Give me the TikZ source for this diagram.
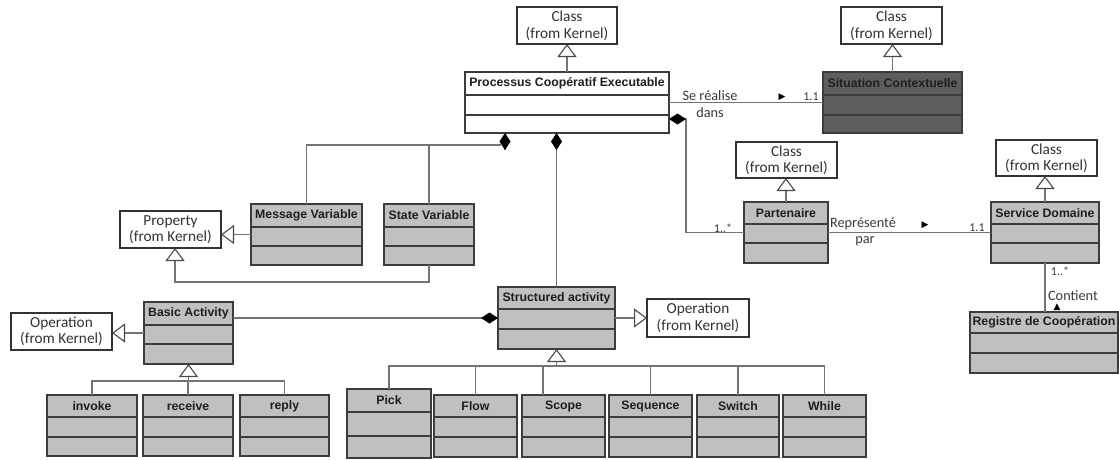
\documentclass[tikz,border=0pt]{standalone}
\usepackage{fontspec}
\setmainfont{Carlito}
\newfontfamily\umlhfam{Liberation Sans}
\newfontfamily\umlsym{DejaVu Sans}
\usetikzlibrary{arrows.meta,calc}
\definecolor{umlgray}{HTML}{C0C0C0}
\definecolor{umldk}{HTML}{5E5E5E}
\definecolor{boxc}{HTML}{3C3C3C}
\definecolor{kc}{HTML}{333333}
\definecolor{connc}{HTML}{747474}
\definecolor{htext}{HTML}{1E1E1E}
\definecolor{ktext}{HTML}{333333}
\definecolor{ltext}{HTML}{3A3A3A}
\definecolor{tipc}{HTML}{4A4A4A}
\newcommand{\umlhfont}{\umlhfam\bfseries\fontsize{12.3}{14}\selectfont}
\newcommand{\umlkfont}{\fontsize{15.3}{16.5}\selectfont}
\newcommand{\umllfont}{\fontsize{14.3}{16}\selectfont}
\newcommand{\umlmfont}{\fontsize{12}{13}\selectfont}
\tikzset{
  uml/.style={draw=boxc, line width=1.2pt, fill=umlgray, inner sep=0pt, outer sep=0pt},
  umldark/.style={uml, fill=umldk},
  kbox/.style={draw=kc, line width=1.1pt, fill=white, inner sep=0pt, outer sep=0pt, align=center, font=\umlkfont, text=ktext},
  rowline/.style={draw=boxc, line width=1.2pt},
  hdr/.style={font=\umlhfont, text=htext, inner sep=0pt},
  conn/.style={draw=connc, line width=1.2pt},
  gen/.style={conn, -{Triangle[open, length=13pt, width=19pt, line width=1.1pt, color=tipc]}},
  comp/.style={conn, {Diamond[length=17pt, width=11pt, color=black]}-},
  lbl/.style={font=\umllfont, text=ltext, inner sep=0pt},
  mult/.style={font=\umlmfont, text=ltext, inner sep=0pt},
  sym/.style={font=\umlsym\fontsize{9}{10}\selectfont, text=black, inner sep=0pt},
}
% name, style, x1, y1, x2, y2, header bottom, row line, title
\newcommand{\umlclass}[9]{%
  \pgfmathsetmacro\umlcx{(#3+#5)/2}%
  \pgfmathsetmacro\umlcy{(#4+#6)/2}%
  \pgfmathsetmacro\umlw{#5-#3}%
  \pgfmathsetmacro\umlh{#6-#4}%
  \pgfmathsetmacro\umlhy{(#4+#7)/2}%
  \node[#2, minimum width=\umlw pt, minimum height=\umlh pt] (#1) at (\umlcx,\umlcy) {};
  \draw[rowline] (#3,#7) -- (#5,#7) (#3,#8) -- (#5,#8);
  \node[hdr] (#1-t) at (\umlcx,\umlhy) {#9};
}
\begin{document}
\begin{tikzpicture}[x=1pt, y=-1pt]
\useasboundingbox[fill=white] (0,0) rectangle (1119,459);

% kernel classes
\node[kbox, minimum width=100pt, minimum height=37pt] (k1) at (567,25.5) {Class\\(from Kernel)};
\node[kbox, minimum width=101pt, minimum height=37pt] (k2) at (891.5,25.5) {Class\\(from Kernel)};
\node[kbox, minimum width=101pt, minimum height=36pt] (k3) at (786.5,160) {Class\\(from Kernel)};
\node[kbox, minimum width=101pt, minimum height=36pt] (k4) at (1046.5,158) {Class\\(from Kernel)};
\node[kbox, minimum width=101pt, minimum height=37pt] (prop) at (170.5,229.5) {Property\\(from Kernel)};
\node[kbox, minimum width=101pt, minimum height=37pt] (opL) at (61.5,331.5) {Operation\\(from Kernel)};
\node[kbox, minimum width=102pt, minimum height=38pt] (opR) at (698,318) {Operation\\(from Kernel)};

% uml classes
\umlclass{pce}{uml, fill=white}{465}{72}{669}{133}{95}{115}{Processus Coopératif Executable}
\umlclass{sit}{umldark}{823}{72}{962}{133}{95}{115}{Situation Contextuelle}
\umlclass{part}{uml}{744}{202}{828}{263}{224}{243}{Partenaire}
\umlclass{sd}{uml}{991}{202}{1099}{263}{224}{243}{Service Domaine}
\umlclass{reg}{uml}{970}{312}{1118}{373}{333}{353}{Registre de Coopération}
\umlclass{mv}{uml}{251}{204}{362}{265}{227}{246}{Message Variable}
\umlclass{sv}{uml}{384}{204}{474}{265}{227}{246}{State Variable}
\umlclass{ba}{uml}{144}{302}{233}{364}{325}{344}{Basic Activity}
\umlclass{sa}{uml}{498}{287}{615}{349}{309}{329}{Structured activity}
\umlclass{inv}{uml}{47}{395}{137}{456}{417}{437}{invoke}
\umlclass{rec}{uml}{143}{395}{233}{456}{417}{437}{receive}
\umlclass{rep}{uml}{240}{395}{329}{456}{417}{437}{reply}
\umlclass{pick}{uml}{347}{389}{431}{458}{412}{436}{Pick}
\umlclass{flow}{uml}{434}{395}{517}{457}{417}{437}{Flow}
\umlclass{scope}{uml}{522}{395}{605}{457}{417}{437}{Scope}
\umlclass{seq}{uml}{609}{395}{692}{457}{417}{437}{Sequence}
\umlclass{sw}{uml}{697}{395}{779}{457}{417}{437}{Switch}
\umlclass{wh}{uml}{783}{395}{866}{457}{417}{437}{While}

% generalizations
\draw[gen] (pce.north) -- (pce.north |- k1.south);
\draw[gen] (sit.north) -- (sit.north |- k2.south);
\draw[gen] (part.north) -- (part.north |- k3.south);
\draw[gen] (sd.north) -- (sd.north |- k4.south);
\draw[gen] (mv.west) -- (prop.east |- mv.west);
\coordinate (lp) at (175,282);
\coordinate (lpt) at (175,248);
\draw[gen] (sv.south) |- (lp) -- (lpt);
\draw[gen] (ba.west) -- (opL.east |- ba.west);
\draw[gen] (sa.east) -- (opR.west);

\coordinate (babus) at (188.5,381);
\draw[gen] (babus) -- (ba.south);
\draw[conn] (inv.north) -- (inv.north |- babus) -- (rep.north |- babus) -- (rep.north);
\draw[conn] (rec.north) -- (rec.north |- babus);

\coordinate (sabus) at (556.5,366);
\coordinate (scopetop) at ($(scope.north)+(-20.5,0)$);
\draw[gen] (sabus) -- (sa.south);
\draw[conn] (pick.north) -- (pick.north |- sabus) -- (wh.north |- sabus) -- (wh.north);
\draw[conn] (flow.north) -- (flow.north |- sabus);
\draw[conn] (scopetop) -- (scopetop |- sabus);
\draw[conn] (seq.north) -- (seq.north |- sabus);
\draw[conn] (sw.north) -- (sw.north |- sabus);

% compositions
\coordinate (dA) at (505,133);
\coordinate (dAl) at (501,145);
\draw[comp] (dA) -- ++(0,17);
\draw[conn] (dAl) -| (mv.north);
\draw[conn] (sv.north) -- (sv.north |- dAl);
\draw[comp] (sa.north |- pce.south) -- (sa.north);
\coordinate (dB) at (669,119);
\draw[comp] (dB) -- ++(17,0) |- (part.west);
\draw[comp] (sa.west) -- (ba.east |- sa.west);

% associations
\draw[conn] (pce.east) -- (sit.west);
\draw[conn] (part.east) -- (sd.west);
\draw[conn] (sd.south) -- (sd.south |- reg.north);

% labels
\node[lbl] (l1) at (710,96) {Se réalise};
\node[lbl] (l2) at (710,113) {dans};
\node[sym] (s1) at (782,97) {▶};
\node[mult] (m1) at (811,97) {1.1};
\node[mult] (m2) at (723,228) {1..*};
\node[lbl] (l3) at (863,224) {Représenté};
\node[lbl] (l4) at (865,241) {par};
\node[sym] (s2) at (925,225) {▶};
\node[mult] (m3) at (977,228) {1.1};
\node[mult] (m4) at (1060,271) {1..*};
\node[lbl] (l5) at (1073,296) {Contient};
\node[sym] (s3) at (1057,307) {▲};
\end{tikzpicture}
\end{document}
